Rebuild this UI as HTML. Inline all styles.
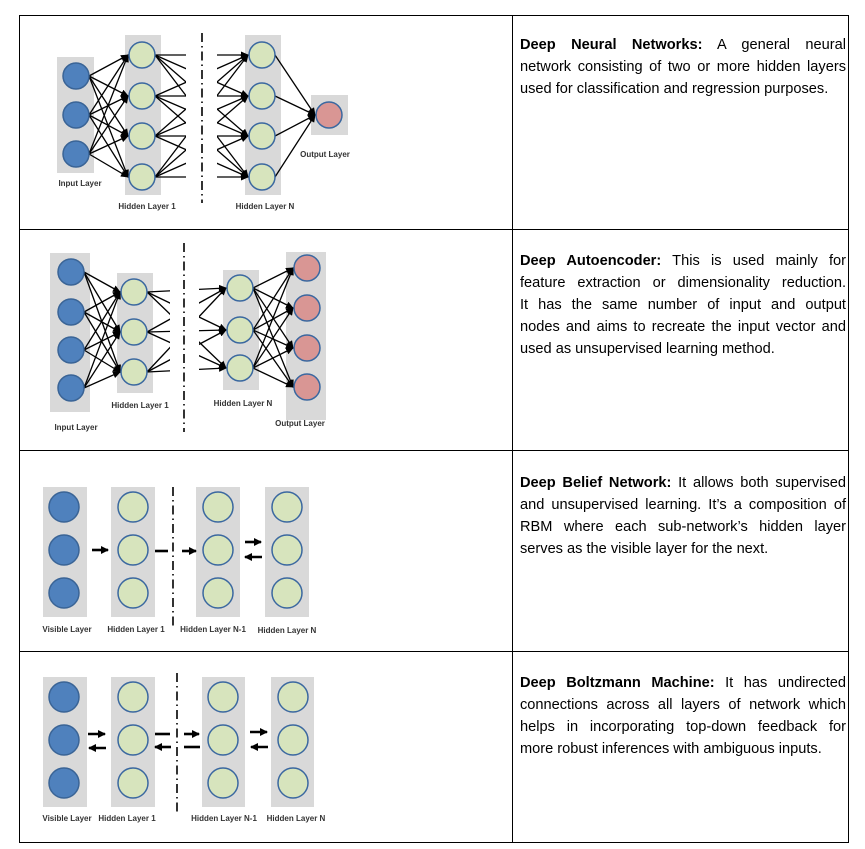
<!DOCTYPE html>
<html><head><meta charset="utf-8"><style>
body{margin:0;background:#fff;width:865px;height:849px;position:relative;overflow:hidden}
.t{position:absolute;left:520px;width:326px;font-family:"Liberation Sans",sans-serif;font-size:14.6px;color:#000;}
.t div{height:22px;line-height:22px;white-space:nowrap;text-align:justify;text-align-last:justify}
.t div.l{text-align-last:left}
svg{position:absolute;left:0;top:0}
</style></head><body>
<svg width="865" height="849" viewBox="0 0 865 849">
<defs>
<marker id="a" markerUnits="userSpaceOnUse" markerWidth="8" markerHeight="7" refX="7" refY="3.5" orient="auto"><path d="M0,0 L8,3.5 L0,7 z" fill="#000"/></marker>
<marker id="b" markerUnits="userSpaceOnUse" markerWidth="8" markerHeight="8" refX="7" refY="4" orient="auto"><path d="M0,0 L8,4 L0,8 z" fill="#000"/></marker>
</defs>
<g fill="#d9d9d9">
<rect x="57" y="57" width="37" height="116"/><rect x="125" y="35" width="36" height="160"/><rect x="245" y="35" width="36" height="160"/><rect x="311" y="95" width="37" height="40"/>
<rect x="50" y="253" width="40" height="159"/><rect x="117" y="273" width="36" height="120"/><rect x="223" y="270" width="36" height="120"/><rect x="286" y="252" width="40" height="168"/>
<rect x="43" y="487" width="44" height="130"/><rect x="111" y="487" width="44" height="130"/><rect x="196" y="487" width="44" height="130"/><rect x="265" y="487" width="44" height="130"/>
<rect x="43" y="677" width="44" height="130"/><rect x="111" y="677" width="44" height="130"/><rect x="202" y="677" width="43" height="130"/><rect x="271" y="677" width="43" height="130"/>
</g>
<g stroke="#000" stroke-width="1.3" marker-end="url(#a)">
<line x1="89" y1="76" x2="128" y2="55"/><line x1="89" y1="76" x2="128" y2="96"/><line x1="89" y1="76" x2="128" y2="136"/><line x1="89" y1="76" x2="128" y2="177"/>
<line x1="89" y1="115" x2="128" y2="55"/><line x1="89" y1="115" x2="128" y2="96"/><line x1="89" y1="115" x2="128" y2="136"/><line x1="89" y1="115" x2="128" y2="177"/>
<line x1="89" y1="154" x2="128" y2="55"/><line x1="89" y1="154" x2="128" y2="96"/><line x1="89" y1="154" x2="128" y2="136"/><line x1="89" y1="154" x2="128" y2="177"/>
<line x1="155" y1="55" x2="248" y2="55"/><line x1="155" y1="55" x2="248" y2="96"/><line x1="155" y1="55" x2="248" y2="136"/><line x1="155" y1="55" x2="248" y2="177"/>
<line x1="155" y1="96" x2="248" y2="55"/><line x1="155" y1="96" x2="248" y2="96"/><line x1="155" y1="96" x2="248" y2="136"/><line x1="155" y1="96" x2="248" y2="177"/>
<line x1="155" y1="136" x2="248" y2="55"/><line x1="155" y1="136" x2="248" y2="96"/><line x1="155" y1="136" x2="248" y2="136"/><line x1="155" y1="136" x2="248" y2="177"/>
<line x1="155" y1="177" x2="248" y2="55"/><line x1="155" y1="177" x2="248" y2="96"/><line x1="155" y1="177" x2="248" y2="136"/><line x1="155" y1="177" x2="248" y2="177"/>
<line x1="275" y1="55" x2="315" y2="115"/><line x1="275" y1="96" x2="315" y2="115"/><line x1="275" y1="136" x2="315" y2="115"/><line x1="275" y1="177" x2="315" y2="115"/>
<line x1="84" y1="272" x2="120" y2="292"/><line x1="84" y1="272" x2="120" y2="332"/><line x1="84" y1="272" x2="120" y2="372"/>
<line x1="84" y1="312" x2="120" y2="292"/><line x1="84" y1="312" x2="120" y2="332"/><line x1="84" y1="312" x2="120" y2="372"/>
<line x1="84" y1="350" x2="120" y2="292"/><line x1="84" y1="350" x2="120" y2="332"/><line x1="84" y1="350" x2="120" y2="372"/>
<line x1="84" y1="388" x2="120" y2="292"/><line x1="84" y1="388" x2="120" y2="332"/><line x1="84" y1="388" x2="120" y2="372"/>
<line x1="147" y1="292" x2="226" y2="288"/><line x1="147" y1="292" x2="226" y2="330"/><line x1="147" y1="292" x2="226" y2="368"/>
<line x1="147" y1="332" x2="226" y2="288"/><line x1="147" y1="332" x2="226" y2="330"/><line x1="147" y1="332" x2="226" y2="368"/>
<line x1="147" y1="372" x2="226" y2="288"/><line x1="147" y1="372" x2="226" y2="330"/><line x1="147" y1="372" x2="226" y2="368"/>
<line x1="253" y1="288" x2="293" y2="268"/><line x1="253" y1="288" x2="293" y2="308"/><line x1="253" y1="288" x2="293" y2="348"/><line x1="253" y1="288" x2="293" y2="387"/>
<line x1="253" y1="330" x2="293" y2="268"/><line x1="253" y1="330" x2="293" y2="308"/><line x1="253" y1="330" x2="293" y2="348"/><line x1="253" y1="330" x2="293" y2="387"/>
<line x1="253" y1="368" x2="293" y2="268"/><line x1="253" y1="368" x2="293" y2="308"/><line x1="253" y1="368" x2="293" y2="348"/><line x1="253" y1="368" x2="293" y2="387"/>
</g>
<g fill="#fff"><rect x="186" y="30" width="31" height="170"/><rect x="170" y="268" width="29" height="130"/></g>
<g stroke="#000" stroke-width="1.6" fill="none" stroke-dasharray="9,4,1.5,4">
<line x1="202" y1="33" x2="202" y2="203"/><line x1="184" y1="243" x2="184" y2="432"/><line x1="173" y1="487" x2="173" y2="628"/><line x1="177" y1="673" x2="177" y2="815"/>
</g>
<g stroke="#000" stroke-width="2.6" marker-end="url(#b)">
<line x1="92" y1="550" x2="108" y2="550"/><line x1="182" y1="551" x2="196" y2="551"/><line x1="245" y1="542" x2="261" y2="542"/><line x1="262" y1="557" x2="245" y2="557"/>
<line x1="88" y1="734" x2="105" y2="734"/><line x1="106" y1="748" x2="89" y2="748"/><line x1="171" y1="747" x2="155" y2="747"/><line x1="184" y1="734" x2="199" y2="734"/>
<line x1="250" y1="732" x2="267" y2="732"/><line x1="268" y1="747" x2="251" y2="747"/>
</g>
<g stroke="#000" stroke-width="2.6">
<line x1="155" y1="551" x2="168" y2="551"/><line x1="155" y1="734" x2="170" y2="734"/><line x1="184" y1="747" x2="200" y2="747"/>
</g>
<g stroke-width="1.5">
<g fill="#4f81bd" stroke="#3a6496">
<circle cx="76" cy="76" r="13"/><circle cx="76" cy="115" r="13"/><circle cx="76" cy="154" r="13"/>
<circle cx="71" cy="272" r="13"/><circle cx="71" cy="312" r="13"/><circle cx="71" cy="350" r="13"/><circle cx="71" cy="388" r="13"/>
<circle cx="64" cy="507" r="15"/><circle cx="64" cy="550" r="15"/><circle cx="64" cy="593" r="15"/>
<circle cx="64" cy="697" r="15"/><circle cx="64" cy="740" r="15"/><circle cx="64" cy="783" r="15"/>
</g>
<g fill="#d7e4bd" stroke="#3b68a0">
<circle cx="142" cy="55" r="13"/><circle cx="142" cy="96" r="13"/><circle cx="142" cy="136" r="13"/><circle cx="142" cy="177" r="13"/>
<circle cx="262" cy="55" r="13"/><circle cx="262" cy="96" r="13"/><circle cx="262" cy="136" r="13"/><circle cx="262" cy="177" r="13"/>
<circle cx="134" cy="292" r="13"/><circle cx="134" cy="332" r="13"/><circle cx="134" cy="372" r="13"/>
<circle cx="240" cy="288" r="13"/><circle cx="240" cy="330" r="13"/><circle cx="240" cy="368" r="13"/>
<circle cx="133" cy="507" r="15"/><circle cx="133" cy="550" r="15"/><circle cx="133" cy="593" r="15"/>
<circle cx="218" cy="507" r="15"/><circle cx="218" cy="550" r="15"/><circle cx="218" cy="593" r="15"/>
<circle cx="287" cy="507" r="15"/><circle cx="287" cy="550" r="15"/><circle cx="287" cy="593" r="15"/>
<circle cx="133" cy="697" r="15"/><circle cx="133" cy="740" r="15"/><circle cx="133" cy="783" r="15"/>
<circle cx="223" cy="697" r="15"/><circle cx="223" cy="740" r="15"/><circle cx="223" cy="783" r="15"/>
<circle cx="293" cy="697" r="15"/><circle cx="293" cy="740" r="15"/><circle cx="293" cy="783" r="15"/>
</g>
<g fill="#d99694" stroke="#3b68a0">
<circle cx="329" cy="115" r="13"/>
<circle cx="307" cy="268" r="13"/><circle cx="307" cy="308" r="13"/><circle cx="307" cy="348" r="13"/><circle cx="307" cy="387" r="13"/>
</g>
</g>
<g font-family="Liberation Sans, sans-serif" font-size="8" font-weight="bold" fill="#333" text-anchor="middle">
<text x="80" y="186">Input Layer</text><text x="147" y="209">Hidden Layer 1</text><text x="265" y="209">Hidden Layer N</text><text x="325" y="157">Output Layer</text>
<text x="76" y="430">Input Layer</text><text x="140" y="408">Hidden Layer 1</text><text x="243" y="406">Hidden Layer N</text><text x="300" y="426">Output Layer</text>
<text x="67" y="632">Visible Layer</text><text x="136" y="632">Hidden Layer 1</text><text x="213" y="632">Hidden Layer N-1</text><text x="287" y="633">Hidden Layer N</text>
<text x="67" y="821">Visible Layer</text><text x="127" y="821">Hidden Layer 1</text><text x="224" y="821">Hidden Layer N-1</text><text x="296" y="821">Hidden Layer N</text>
</g>
<g stroke="#000" stroke-width="1" fill="none">
<rect x="19.5" y="15.5" width="829" height="827"/>
<line x1="512.5" y1="15" x2="512.5" y2="843"/>
<line x1="19" y1="229.5" x2="849" y2="229.5"/><line x1="19" y1="450.5" x2="849" y2="450.5"/><line x1="19" y1="651.5" x2="849" y2="651.5"/>
</g>
</svg>
<div class="t" style="top:34px"><div><b>Deep Neural Networks:</b> A general neural</div><div>network consisting of two or more hidden layers</div><div class="l">used for classification and regression purposes.</div></div>
<div class="t" style="top:250px"><div><b>Deep Autoencoder:</b> This is used mainly for</div><div>feature extraction or dimensionality reduction.</div><div>It has the same number of input and output</div><div>nodes and aims to recreate the input vector and</div><div class="l">used as unsupervised learning method.</div></div>
<div class="t" style="top:472px"><div><b>Deep Belief Network:</b> It allows both supervised</div><div>and unsupervised learning. It’s a composition of</div><div>RBM where each sub-network’s hidden layer</div><div class="l">serves as the visible layer for the next.</div></div>
<div class="t" style="top:672px"><div><b>Deep Boltzmann Machine:</b> It has undirected</div><div>connections across all layers of network which</div><div>helps in incorporating top-down feedback for</div><div class="l">more robust inferences with ambiguous inputs.</div></div>
</body></html>
